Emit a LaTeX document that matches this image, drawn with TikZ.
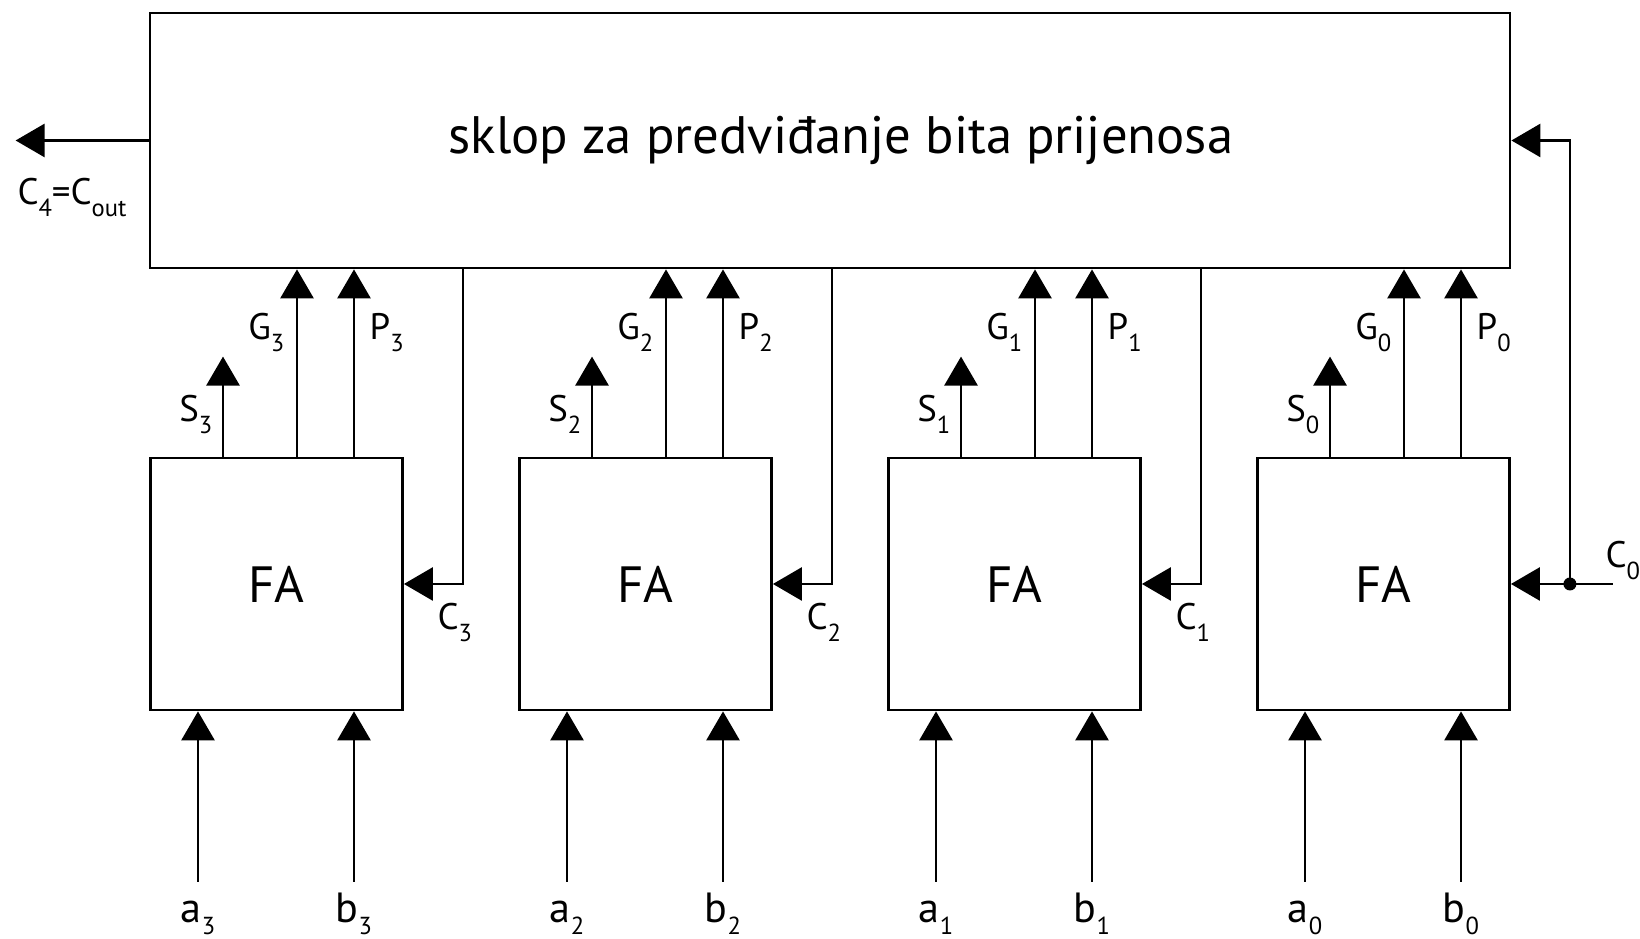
\documentclass[tikz,border=0pt]{standalone}
\usepackage{fontspec}
\setmainfont{PT Sans}
\usetikzlibrary{positioning}
\usetikzlibrary{arrows.meta}

% signal name with a low-set index
\newcommand{\sgn}[3][7]{#2\raisebox{-0.12cm}{\fontsize{#1}{#1}\selectfont #3}}

\begin{document}
\begin{tikzpicture}
    [%%%%%%%%%%%%%%%%%%%%%%%%%%%%%%
        block/.style={rectangle,draw=black,line width=0.8pt,inner sep=0pt},
        fa/.style={block,minimum size=2.52cm,font=\fontsize{14.5}{17}\selectfont},
        wire/.style={line width=0.8pt},
        arr/.style={wire,-{Triangle[width=0.33cm,length=0.29cm]}},
        lbl/.style={inner sep=0pt,font=\fontsize{10.5}{12}\selectfont},
        inlbl/.style={inner sep=0pt,font=\fontsize{12}{14}\selectfont}
    ]%%%%%%%%%%%%%%%%%%%%%%%%%%%%%%
\useasboundingbox (0,0) rectangle (16.40,9.39);

\node[block,minimum width=13.6cm,minimum height=2.55cm] (cla) at (8.30,7.985) {};
\node (cltxt) at (8.41,7.985) {\fontsize{15}{18}\selectfont sklop za predviđanje bita prijenosa};

% the four full adders with their sum, generate and propagate outputs
\foreach \i in {0,1,2,3}{
    \node[fa] (fa\i) at ({13.835-3.69*\i},3.55) {FA};

    \draw[arr] ([xshift=-0.535cm]fa\i.north) -- ++(0,1.0) coordinate (s\i);
    \node[lbl,anchor=base east] (sl\i) at ([xshift=-0.10cm,yshift=-0.65cm]s\i) {\sgn{S}{\i}};

    \draw[arr] ([xshift=0.205cm]fa\i.north) -- ([xshift=0.205cm]fa\i.north |- cla.south) coordinate (g\i);
    \node[lbl,anchor=base east] (gl\i) at ([xshift=-0.12cm,yshift=-0.70cm]g\i) {\sgn{G}{\i}};

    \draw[arr] ([xshift=0.775cm]fa\i.north) -- ([xshift=0.775cm]fa\i.north |- cla.south) coordinate (p\i);
    \node[lbl,anchor=base west] (pl\i) at ([xshift=0.15cm,yshift=-0.70cm]p\i) {\sgn{P}{\i}};

    % operand inputs
    \coordinate (a\i) at ([xshift=-0.785cm]fa\i.south |- 0,0.57);
    \coordinate (b\i) at ([xshift=0.775cm]fa\i.south |- 0,0.57);
    \draw[arr] (a\i) -- ([xshift=-0.785cm]fa\i.south);
    \draw[arr] (b\i) -- ([xshift=0.775cm]fa\i.south);
    \node[inlbl,anchor=base] (al\i) at ([yshift=-0.41cm]a\i) {\sgn{a}{\i}};
    \node[inlbl,anchor=base] (bl\i) at ([yshift=-0.41cm]b\i) {\sgn{b}{\i}};
}

% carries from the lookahead block
\foreach \i in {1,2,3}{
    \draw[arr] ([xshift=0.59cm]fa\i.east |- cla.south) |- (fa\i.east);
    \node[lbl,anchor=base west] (cl\i) at ([xshift=0.33cm,yshift=-0.46cm]fa\i.east) {\sgn{C}{\i}};
}

% input carry
\coordinate (c0dot) at ([xshift=0.59cm]fa0.east);
\coordinate (c0in) at ([xshift=1.02cm]fa0.east);
\draw[arr] (c0in) -- (fa0.east);
\draw[arr] (c0dot) |- (cla.east);
\fill (c0dot) circle (0.065);
\node[lbl,anchor=base west] (cl0) at ([xshift=-0.08cm,yshift=0.16cm]c0in) {\sgn{C}{0}};

% output carry
\draw[arr] (cla.west) -- ++(-1.33,0) coordinate (c4);
\node[lbl,anchor=base] (cl4) at (0.72,7.34) {\sgn{C}{4}=\sgn{C}{out}};

\end{tikzpicture}
\end{document}
